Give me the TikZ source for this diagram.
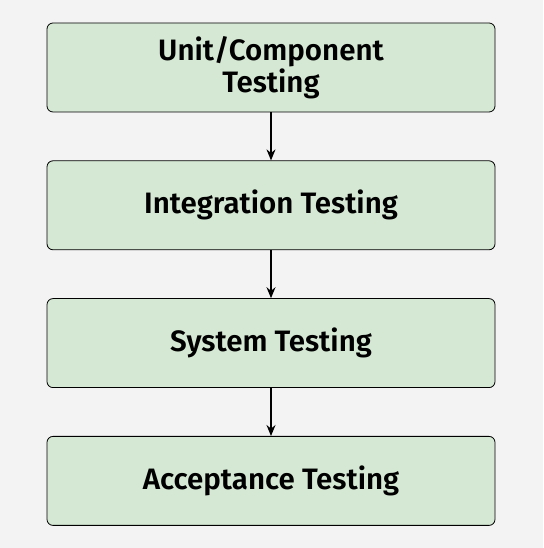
\documentclass[tikz,border=0pt]{standalone}
\usepackage{fontspec}
\setmainfont{Fira Sans}[BoldFont={Fira Sans SemiBold}]
\usetikzlibrary{arrows.meta,positioning}
\definecolor{stageGreen}{RGB}{213,232,212}
\definecolor{pageGray}{RGB}{243,243,243}

\begin{document}
\begin{tikzpicture}[
  x=1pt, y=1pt,
  font=\fontsize{29.5}{32}\selectfont\bfseries,
  node distance=48pt,
  %% Green stage block
  stage/.style={
    rounded corners=6pt,
    draw=black,
    fill=stageGreen,
    minimum width=448pt,
    minimum height=89pt,
    align=center,
    line width=0.8pt
  },
  arr/.style={-{Stealth[length=11pt,width=9pt]}, line width=1.4pt}
]

%% ---- Canvas ----
\fill[pageGray] (0,0) rectangle (543,548);
\useasboundingbox (0,0) rectangle (543,548);

%% ---- Nodes (vertical chain) ----
\node[stage] (unit) at (271,480.5) {Unit/Component\\Testing};
\node[stage, below=of unit] (integ) {Integration Testing};
\node[stage, below=of integ] (sys)  {System Testing};
\node[stage, below=of sys]   (acc)  {Acceptance Testing};

%% ---- Flow arrows ----
\draw[arr] (unit.south)  -- (integ.north);
\draw[arr] (integ.south) -- (sys.north);
\draw[arr] (sys.south)   -- (acc.north);

\end{tikzpicture}
\end{document}
